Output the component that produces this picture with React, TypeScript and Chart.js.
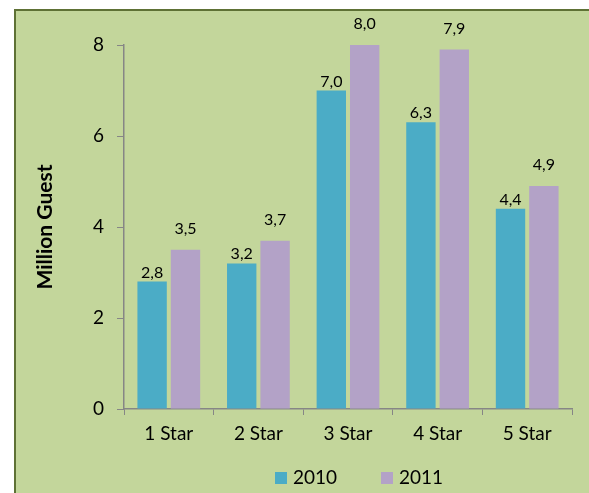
import React, { useEffect, useRef } from "react";
import { Chart, registerables } from "chart.js";

Chart.register(...registerables);

const categories = ["1 Star", "2 Star", "3 Star", "4 Star", "5 Star"];
const seriesNames = ["2010", "2011"];
const values2010 = [2.8, 3.2, 7.0, 6.3, 4.4];
const values2011 = [3.5, 3.7, 8.0, 7.9, 4.9];
const yTicks = [0, 2, 4, 6, 8];
const yTitle = "Million Guest";

const FONT = "Lato, 'Open Sans', sans-serif";
const BG = "#c3d69b";
const AXIS = "#868686";
const COLORS = ["#4bacc6", "#b3a2c7"];
const LABEL_GAP = [4, 16];

const W = 589;
const H = 493;

const fmt = (v: number) => v.toFixed(1).replace(".", ",");

const backgroundPlugin = {
  id: "bgFrame",
  beforeDraw(chart: any) {
    const ctx = chart.ctx;
    ctx.save();
    ctx.fillStyle = "#ffffff";
    ctx.fillRect(0, 0, chart.width, chart.height);
    ctx.fillStyle = BG;
    ctx.fillRect(14, 9, chart.width - 14, chart.height - 9);
    ctx.strokeStyle = "#5e7135";
    ctx.lineWidth = 2;
    ctx.beginPath();
    ctx.moveTo(15, chart.height);
    ctx.lineTo(15, 10);
    ctx.lineTo(chart.width, 10);
    ctx.stroke();
    ctx.restore();
  },
};

const labelPlugin = {
  id: "valueLabels",
  afterDatasetsDraw(chart: any) {
    const ctx = chart.ctx;
    ctx.save();
    ctx.font = `16px ${FONT}`;
    ctx.fillStyle = "#000000";
    ctx.textAlign = "center";
    ctx.textBaseline = "alphabetic";
    chart.data.datasets.forEach((ds: any, di: number) => {
      const meta = chart.getDatasetMeta(di);
      meta.data.forEach((el: any, i: number) => {
        ctx.fillText(fmt(ds.data[i]), el.x, el.y - LABEL_GAP[di]);
      });
    });
    ctx.restore();
  },
};

const legendPlugin = {
  id: "customLegend",
  afterDraw(chart: any) {
    const ctx = chart.ctx;
    ctx.save();
    ctx.font = `19px ${FONT}`;
    ctx.textBaseline = "alphabetic";
    ctx.textAlign = "left";
    const startX = 275;
    const step = 106;
    chart.data.datasets.forEach((ds: any, di: number) => {
      const x = startX + di * step;
      ctx.fillStyle = ds.backgroundColor;
      ctx.fillRect(x, 472, 12, 12);
      ctx.fillStyle = "#000000";
      ctx.fillText(ds.label, x + 18, 484);
    });
    ctx.restore();
  },
};

export default function App() {
  const ref = useRef<HTMLCanvasElement | null>(null);

  useEffect(() => {
    if (!ref.current) return;
    const chart = new Chart(ref.current, {
      type: "bar",
      data: {
        labels: categories,
        datasets: [
          {
            label: seriesNames[0],
            data: values2010,
            backgroundColor: COLORS[0],
            categoryPercentage: 0.745,
            barPercentage: 0.88,
          },
          {
            label: seriesNames[1],
            data: values2011,
            backgroundColor: COLORS[1],
            categoryPercentage: 0.745,
            barPercentage: 0.88,
          },
        ],
      },
      options: {
        animation: false,
        responsive: false,
        layout: { padding: { left: 33, top: 45, right: 17, bottom: 0 } },
        plugins: {
          legend: { display: false },
          tooltip: { enabled: false },
        },
        scales: {
          x: {
            grid: {
              drawOnChartArea: false,
              drawTicks: true,
              tickLength: 6,
              color: AXIS,
              offset: true,
            },
            border: { display: true, color: AXIS, width: 1.5 },
            ticks: {
              color: "#000000",
              font: { family: FONT, size: 19 },
              padding: 7,
              maxRotation: 0,
            },
            afterFit(scale: any) {
              scale.height = 84;
            },
          },
          y: {
            min: 0,
            max: 8,
            afterBuildTicks(scale: any) {
              scale.ticks = yTicks.map((v) => ({ value: v }));
            },
            grid: {
              drawOnChartArea: false,
              drawTicks: true,
              tickLength: 7,
              color: AXIS,
            },
            border: { display: true, color: AXIS, width: 1.5 },
            ticks: {
              color: "#000000",
              font: { family: FONT, size: 19 },
              padding: 13,
            },
            title: {
              display: true,
              text: yTitle,
              color: "#000000",
              font: { family: FONT, size: 21, weight: "bold" },
              padding: 0,
            },
            afterFit(scale: any) {
              scale.width = 91;
            },
          },
        },
      },
      plugins: [backgroundPlugin, labelPlugin, legendPlugin],
    });
    return () => chart.destroy();
  }, []);

  return (
    <div style={{ position: "absolute", left: 0, top: 0, width: W, height: H }}>
      <canvas ref={ref} width={W} height={H} style={{ display: "block", width: W, height: H }} />
    </div>
  );
}
